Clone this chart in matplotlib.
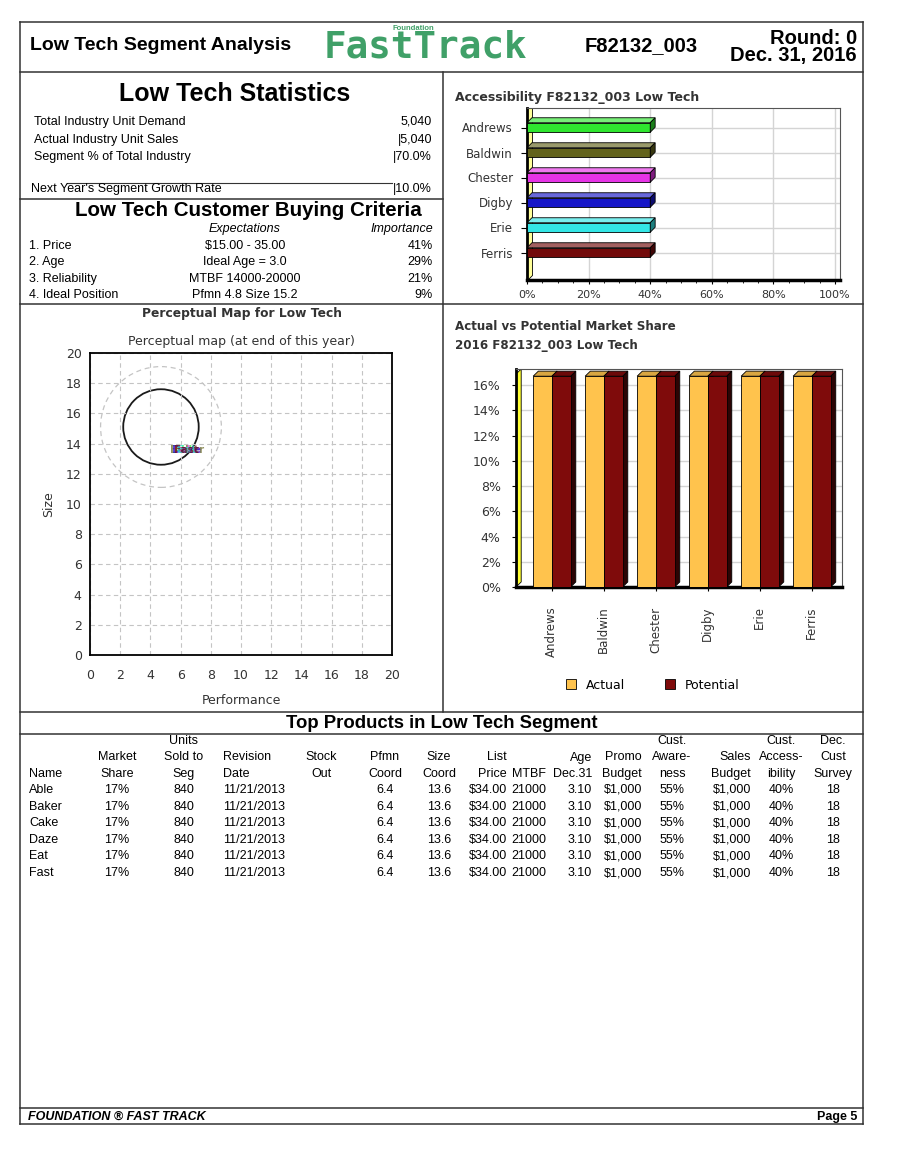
import numpy as np
import matplotlib
matplotlib.use('Agg')
import matplotlib.pyplot as plt
from matplotlib.lines import Line2D
from matplotlib.patches import Polygon, Circle, Patch
from matplotlib.colors import to_rgb

plt.rcParams['font.family'] = 'Liberation Sans'

W, H = 904, 1165

# ---------------- data ----------------
companies = ['Andrews', 'Baldwin', 'Chester', 'Digby', 'Erie', 'Ferris']
company_colors = ['#2fe62f', '#63631c', '#e633e6', '#1616c8', '#33e6e6', '#720a0a']
accessibility = [40, 40, 40, 40, 40, 40]
actual_share = [16.7, 16.7, 16.7, 16.7, 16.7, 16.7]
potential_share = [16.7, 16.7, 16.7, 16.7, 16.7, 16.7]

stat_labels = ['Total Industry Unit Demand', 'Actual Industry Unit Sales', 'Segment % of Total Industry']
stat_values = ['5,040', '|5,040', '|70.0%']
growth_label = "Next Year's Segment Growth Rate"
growth_value = '|10.0%'

criteria = ['1. Price', '2. Age', '3. Reliability', '4. Ideal Position']
expectations = ['$15.00 - 35.00', 'Ideal Age = 3.0', 'MTBF 14000-20000', 'Pfmn 4.8 Size 15.2']
importance = ['41%', '29%', '21%', '9%']

segment_center = (4.7, 15.1)
fine_cut = 2.5
rough_cut = 4.0

products = ['Able', 'Baker', 'Cake', 'Daze', 'Eat', 'Fast']
pfmn = [6.4, 6.4, 6.4, 6.4, 6.4, 6.4]
size = [13.6, 13.6, 13.6, 13.6, 13.6, 13.6]
market_share = ['17%', '17%', '17%', '17%', '17%', '17%']
units_sold = ['840', '840', '840', '840', '840', '840']
revision_date = ['11/21/2013'] * 6
stock_out = ['', '', '', '', '', '']
list_price = ['$34.00', '$34.00', '$34.00', '$34.00', '$34.00', '$34.00']
mtbf = ['21000', '21000', '21000', '21000', '21000', '21000']
age = ['3.10', '3.10', '3.10', '3.10', '3.10', '3.10']
promo_budget = ['$1,000', '$1,000', '$1,000', '$1,000', '$1,000', '$1,000']
awareness = ['55%', '55%', '55%', '55%', '55%', '55%']
sales_budget = ['$1,000', '$1,000', '$1,000', '$1,000', '$1,000', '$1,000']
cust_access = ['40%', '40%', '40%', '40%', '40%', '40%']
survey = ['18', '18', '18', '18', '18', '18']

fig = plt.figure(figsize=(W / 100, H / 100), dpi=100)


def ftext(x, y, s, **kw):
    kw.setdefault('va', 'center')
    fig.text(x / W, 1 - y / H, s, **kw)


def hline(y, x0, x1, lw=1.1, color='#333333'):
    fig.add_artist(Line2D([x0 / W, x1 / W], [1 - y / H, 1 - y / H], lw=lw, color=color))


def vline(x, y0, y1, lw=1.1, color='#333333'):
    fig.add_artist(Line2D([x / W, x / W], [1 - y0 / H, 1 - y1 / H], lw=lw, color=color))


def add_ax(left, top, right, bottom):
    return fig.add_axes([left / W, 1 - bottom / H, (right - left) / W, (bottom - top) / H])


def lighter(c, f=0.35):
    c = np.array(to_rgb(c))
    return tuple(c + (1 - c) * f)


def darker(c, f=0.55):
    return tuple(np.array(to_rgb(c)) * f)


# ---------------- page frame ----------------
hline(22, 20, 863)
hline(72, 20, 863)
vline(20, 22, 1124)
vline(863, 22, 1124)
vline(443, 72, 712)
hline(199, 20, 443)
hline(304, 20, 863)
hline(712, 20, 863)
hline(734, 20, 863)
hline(1108, 20, 863)
hline(1124, 20, 863)
hline(183, 67, 392, lw=0.8)

# header
ftext(30, 46, 'Low Tech Segment Analysis', fontsize=14, weight='bold')
ftext(324, 47, 'FastTrack', fontsize=27, weight='bold', family='DejaVu Sans Mono', color='#40a068')
ftext(413, 29, 'Foundation', fontsize=5.5, weight='bold', color='#40a068', ha='center')
ftext(585, 46, 'F82132_003', fontsize=14.5, weight='bold')
ftext(857, 38, 'Round: 0', fontsize=14.5, weight='bold', ha='right')
ftext(857, 55, 'Dec. 31, 2016', fontsize=14.5, weight='bold', ha='right')

# statistics
ftext(235, 94, 'Low Tech Statistics', fontsize=18, weight='bold', ha='center')
for i, (lab, val) in enumerate(zip(stat_labels, stat_values)):
    y = 122 + i * 17.5
    ftext(34, y, lab, fontsize=9)
    ftext(432, y, val, fontsize=9, ha='right')
ftext(31, 189, growth_label, fontsize=9)
ftext(432, 189, growth_value, fontsize=9, ha='right')

ftext(248, 210, 'Low Tech Customer Buying Criteria', fontsize=14.8, weight='bold', ha='center')
ftext(245, 229, 'Expectations', fontsize=9, style='italic', ha='center')
ftext(433, 229, 'Importance', fontsize=9, style='italic', ha='right')
for i, (c, e, imp) in enumerate(zip(criteria, expectations, importance)):
    y = 246 + i * 16.4
    ftext(29, y, c, fontsize=9)
    ftext(245, y, e, fontsize=9, ha='center')
    ftext(433, y, imp, fontsize=9, ha='right')

# ---------------- perceptual map ----------------
chart_font = 'DejaVu Sans'
ftext(242, 313, 'Perceptual Map for Low Tech', fontsize=8.8, weight='bold', ha='center',
      family=chart_font, color='#333333')
ftext(241, 341, 'Perceptual map (at end of this year)', fontsize=9, ha='center',
      family=chart_font, color='#333333')
ax3 = add_ax(90, 353, 392, 655)
ax3.set_xlim(0, 20)
ax3.set_ylim(0, 20)
ax3.set_xticks(range(0, 21, 2))
ax3.set_yticks(range(0, 21, 2))
ax3.grid(ls=(0, (4, 3)), color='#c4c4c4', lw=0.8)
ax3.tick_params(length=0, labelsize=9, labelcolor='#333333')
ax3.tick_params(axis='x', pad=10)
ax3.tick_params(axis='y', pad=6)
for lab in ax3.get_xticklabels() + ax3.get_yticklabels():
    lab.set_family(chart_font)
for sp in ax3.spines.values():
    sp.set_linewidth(1.3)
ax3.add_patch(Circle(segment_center, rough_cut, fill=False, ec='#c4c4c4', ls=(0, (4, 3)), lw=0.9))
ax3.add_patch(Circle(segment_center, fine_cut, fill=False, ec='#1a1a1a', lw=1.3))
for name, px, py, c in zip(products, pfmn, size, company_colors):
    ax3.text(px, py, name, color=c, fontsize=7.5, ha='center', va='center', family=chart_font,
             weight='bold', alpha=0.7)
ax3.set_xlabel('Performance', fontsize=9, family=chart_font, color='#333333', labelpad=9)
ax3.set_ylabel('Size', fontsize=9, family=chart_font, color='#333333', labelpad=8)

# ---------------- accessibility chart ----------------
ftext(455, 98, 'Accessibility F82132_003 Low Tech', fontsize=9, weight='bold',
      family=chart_font, color='#333333')
ax1 = add_ax(527, 108, 840, 280)
ypos = np.arange(len(companies))
bh, dxa, dya = 0.38, 1.6, 0.2
ax1.set_xlim(0, 101.6)
ax1.set_ylim(6.1, -0.78)
ax1.add_patch(Polygon([(0, 6.1), (0, -0.78), (dxa, -0.78), (dxa, 6.1 - dya)], fc='#ffff99',
                      ec='black', lw=0.6, zorder=2))
ax1.barh(ypos, accessibility, height=bh, color=company_colors, edgecolor='black', linewidth=0.6, zorder=3)
for i, v in enumerate(accessibility):
    top = i - bh / 2
    c = company_colors[i]
    ax1.add_patch(Polygon([(0, top), (v, top), (v + dxa, top - dya), (dxa, top - dya)],
                          fc=lighter(c), ec='black', lw=0.6, zorder=3))
    ax1.add_patch(Polygon([(v, top), (v + dxa, top - dya), (v + dxa, top + bh - dya), (v, top + bh)],
                          fc=darker(c), ec='black', lw=0.6, zorder=3))
ax1.set_xticks(range(0, 101, 20))
ax1.set_xticklabels([f'{t}%' for t in range(0, 101, 20)])
ax1.set_yticks(ypos)
ax1.set_yticklabels(companies)
ax1.set_xticks(range(0, 101, 5), minor=True)
ax1.grid(color='#d4d4d4', lw=1.0)
ax1.set_axisbelow(True)
ax1.tick_params(axis='y', length=4, pad=6, labelsize=8.5, labelcolor='#333333')
ax1.tick_params(axis='x', which='major', length=3, pad=4, labelsize=8, labelcolor='#333333')
ax1.tick_params(axis='x', which='minor', length=2)
for lab in ax1.get_xticklabels() + ax1.get_yticklabels():
    lab.set_family(chart_font)
ax1.spines['left'].set_linewidth(2)
ax1.spines['bottom'].set_linewidth(2.5)
ax1.spines['top'].set_color('#555555')
ax1.spines['right'].set_color('#555555')

# ---------------- market share chart ----------------
ftext(455, 327, 'Actual vs Potential Market Share', fontsize=8.6, weight='bold',
      family=chart_font, color='#333333')
ftext(455, 345, '2016 F82132_003 Low Tech', fontsize=8.6, weight='bold',
      family=chart_font, color='#333333')
ax2 = add_ax(516, 369, 842, 587)
xpos = np.arange(len(companies))
bw, dxm, dym = 0.36, 0.1, 0.4
ax2.set_xlim(-0.69, 5.58)
ax2.set_ylim(0, 17.27)
ax2.add_patch(Polygon([(-0.69, 0), (-0.69 + dxm, dym), (-0.69 + dxm, 17.27), (-0.69, 17.27 - dym)],
                      fc='#ffff33', ec='black', lw=0.6, zorder=2))
act_col, pot_col = '#ffc34d', '#7f0b0b'
ax2.bar(xpos - bw / 2, actual_share, width=bw, color=act_col, edgecolor='black', linewidth=0.6, zorder=3)
ax2.bar(xpos + bw / 2, potential_share, width=bw, color=pot_col, edgecolor='black', linewidth=0.6, zorder=3)
for i in range(len(companies)):
    for xc, v, c in [(xpos[i] - bw / 2, actual_share[i], act_col), (xpos[i] + bw / 2, potential_share[i], pot_col)]:
        xl, xr = xc - bw / 2, xc + bw / 2
        ax2.add_patch(Polygon([(xl, v), (xr, v), (xr + dxm, v + dym), (xl + dxm, v + dym)],
                              fc=darker(c, 0.85), ec='black', lw=0.6, zorder=3))
        ax2.add_patch(Polygon([(xr, 0), (xr + dxm, dym), (xr + dxm, v + dym), (xr, v)],
                              fc=darker(c, 0.35), ec='black', lw=0.6, zorder=2.9))
ax2.set_yticks(range(0, 17, 2))
ax2.set_yticklabels([f'{t}%' for t in range(0, 17, 2)])
ax2.set_xticks(xpos)
ax2.set_xticklabels(companies, rotation=90, va='top', ha='center')
ax2.grid(axis='y', color='#d4d4d4', lw=1.0)
ax2.set_axisbelow(True)
ax2.tick_params(axis='y', length=3, pad=8, labelsize=9, labelcolor='#333333')
ax2.tick_params(axis='x', length=3, pad=11, labelsize=8.5, labelcolor='#333333')
for lab in ax2.get_xticklabels() + ax2.get_yticklabels():
    lab.set_family(chart_font)
ax2.spines['left'].set_linewidth(2)
ax2.spines['bottom'].set_linewidth(2.5)
ax2.spines['top'].set_color('#555555')
ax2.spines['right'].set_color('#555555')
ax2.legend(handles=[Patch(fc=act_col, ec='black', lw=0.6, label='Actual'),
                    Patch(fc=pot_col, ec='black', lw=0.6, label='Potential')],
           loc='center', bbox_to_anchor=(0.42, -0.45), ncol=2, frameon=False,
           handlelength=0.8, handleheight=0.8, columnspacing=3.2,
           prop={'family': chart_font, 'size': 9})

# ---------------- top products table ----------------
ftext(442, 723, 'Top Products in Low Tech Segment', fontsize=13.3, weight='bold', ha='center')
columns = [
    (29, 'left', ['', '', 'Name'], products),
    (117, 'center', ['', 'Market', 'Share'], market_share),
    (184, 'center', ['Units', 'Sold to', 'Seg'], units_sold),
    (223, 'left', ['', 'Revision', 'Date'], revision_date),
    (321, 'center', ['', 'Stock', 'Out'], stock_out),
    (385, 'center', ['', 'Pfmn', 'Coord'], [f'{v:.1f}' for v in pfmn]),
    (439, 'center', ['', 'Size', 'Coord'], [f'{v:.1f}' for v in size]),
    (507, 'right', ['', 'List', 'Price'], list_price),
    (546, 'right', ['', '', 'MTBF'], mtbf),
    (592, 'right', ['', 'Age', 'Dec.31'], age),
    (642, 'right', ['', 'Promo', 'Budget'], promo_budget),
    (672, 'center', ['Cust.', 'Aware-', 'ness'], awareness),
    (751, 'right', ['', 'Sales', 'Budget'], sales_budget),
    (781, 'center', ['Cust.', 'Access-', 'ibility'], cust_access),
    (833, 'center', ['Dec.', 'Cust', 'Survey'], survey),
]
header_y = [741, 757.5, 774]
for x, ha, heads, vals in columns:
    for y, hd in zip(header_y, heads):
        if hd:
            ftext(x, y, hd, fontsize=9, ha=ha)
    for r, v in enumerate(vals):
        if v:
            ftext(x, 790 + r * 16.6, v, fontsize=9, ha=ha)

# footer
ftext(28, 1117, 'FOUNDATION \u00ae FAST TRACK', fontsize=9, weight='bold', style='italic')
ftext(857, 1117, 'Page 5', fontsize=9, weight='bold', ha='right')

fig.savefig('out.png', dpi=100)
